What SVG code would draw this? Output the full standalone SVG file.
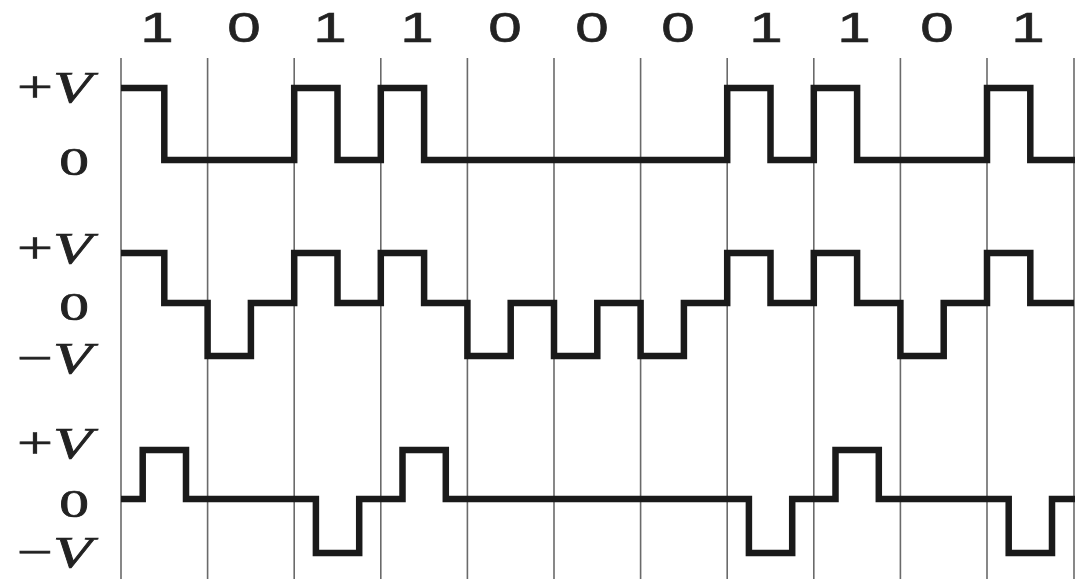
<svg xmlns="http://www.w3.org/2000/svg" width="1089" height="579" viewBox="0 0 1089 579">
<style>
.grid{stroke:#6a6a6a;stroke-width:1.6;fill:none}
.wave{stroke:#1a1a1a;stroke-width:6.5;fill:none;stroke-linejoin:miter;stroke-linecap:butt}
.bit{font-family:"Liberation Sans",Arial,sans-serif;font-size:43px;fill:#222;stroke:#222;stroke-width:0.6;text-anchor:middle}
.lvl{font-family:"Liberation Serif","Times New Roman",serif;font-size:44px;fill:#222;stroke:#222;stroke-width:0.7;text-anchor:end}
.zero{font-family:"Liberation Serif","Times New Roman",serif;font-size:41px;fill:#222;stroke:#222;stroke-width:0.7;text-anchor:end}
.it{font-style:italic}
</style>
<rect width="1089" height="579" fill="#ffffff"/>
<g id="grid" class="grid">
<line x1="121" y1="58" x2="121" y2="579"/>
<line x1="207.6" y1="58" x2="207.6" y2="579"/>
<line x1="294.2" y1="58" x2="294.2" y2="579"/>
<line x1="380.8" y1="58" x2="380.8" y2="579"/>
<line x1="467.4" y1="58" x2="467.4" y2="579"/>
<line x1="554" y1="58" x2="554" y2="579"/>
<line x1="640.6" y1="58" x2="640.6" y2="579"/>
<line x1="727.2" y1="58" x2="727.2" y2="579"/>
<line x1="813.8" y1="58" x2="813.8" y2="579"/>
<line x1="900.4" y1="58" x2="900.4" y2="579"/>
<line x1="987" y1="58" x2="987" y2="579"/>
<line x1="1074" y1="58" x2="1074" y2="579"/>
</g>
<g id="bits">
<text class="bit" transform="translate(157,42) scale(1.4,1)">1</text>
<text class="bit" transform="translate(244,42) scale(1.4,1)">0</text>
<text class="bit" transform="translate(330,42) scale(1.4,1)">1</text>
<text class="bit" transform="translate(417,42) scale(1.4,1)">1</text>
<text class="bit" transform="translate(505,42) scale(1.4,1)">0</text>
<text class="bit" transform="translate(592,42) scale(1.4,1)">0</text>
<text class="bit" transform="translate(678,42) scale(1.4,1)">0</text>
<text class="bit" transform="translate(766,42) scale(1.4,1)">1</text>
<text class="bit" transform="translate(854,42) scale(1.4,1)">1</text>
<text class="bit" transform="translate(937,42) scale(1.4,1)">0</text>
<text class="bit" transform="translate(1028,42) scale(1.4,1)">1</text>
</g>
<g id="labels">
<text class="lvl" transform="translate(92,102) scale(1.45,1)">+<tspan class="it">V</tspan></text>
<text class="zero" transform="translate(89,175) scale(1.45,1)">0</text>
<text class="lvl" transform="translate(92,263) scale(1.45,1)">+<tspan class="it">V</tspan></text>
<text class="zero" transform="translate(89,320) scale(1.45,1)">0</text>
<text class="lvl" transform="translate(92,373) scale(1.45,1)">−<tspan class="it">V</tspan></text>
<text class="lvl" transform="translate(92,458) scale(1.45,1)">+<tspan class="it">V</tspan></text>
<text class="zero" transform="translate(89,517) scale(1.45,1)">0</text>
<text class="lvl" transform="translate(92,567) scale(1.45,1)">−<tspan class="it">V</tspan></text>
</g>
<g id="waveforms">
<path id="unipolar-rz" class="wave" d="M121,88 H164.3 V160 H294.2 V88 H337.5 V160 H380.8 V88 H424.1 V160 H727.2 V88 H770.5 V160 H813.8 V88 H857.1 V160 H987 V88 H1030.3 V160 H1075"/>
<path id="polar-rz" class="wave" d="M121,253 H164.3 V303 H207.6 V356 H250.9 V303 H294.2 V253 H337.5 V303 H380.8 V253 H424.1 V303 H467.4 V356 H510.7 V303 H554 V356 H597.3 V303 H640.6 V356 H683.9 V303 H727.2 V253 H770.5 V303 H813.8 V253 H857.1 V303 H900.4 V356 H943.7 V303 H987 V253 H1030.3 V303 H1074"/>
<path id="bipolar-rz" class="wave" d="M121,499 H142.7 V450 H186 V499 H315.9 V553 H359.2 V499 H402.5 V450 H445.8 V499 H748.9 V553 H792.2 V499 H835.5 V450 H878.8 V499 H1008.7 V553 H1052 V499 H1075"/>
</g>
</svg>
